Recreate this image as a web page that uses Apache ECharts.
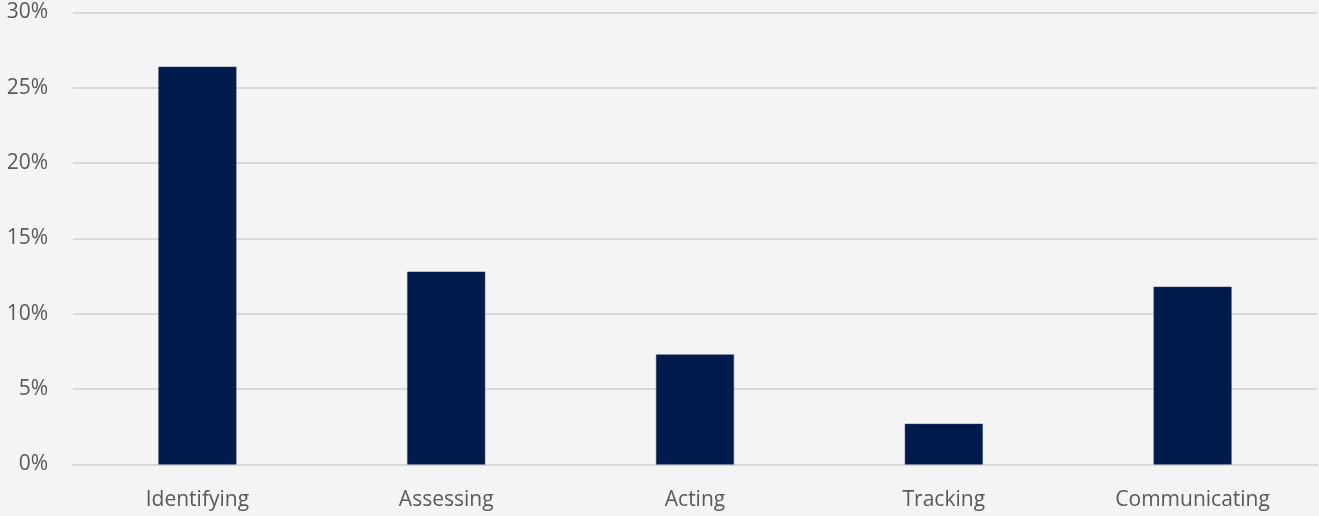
<!DOCTYPE html>
<html>
<head>
<meta charset="utf-8">
<script src="https://cdn.jsdelivr.net/npm/echarts@6/dist/echarts.min.js"></script>
<style>
  html, body { margin: 0; padding: 0; background: #f4f4f4; }
  #chart { width: 1319px; height: 516px; }
</style>
</head>
<body>
<div id="chart"></div>
<script>
// Share of responses by stage
const categories = ['Identifying', 'Assessing', 'Acting', 'Tracking', 'Communicating'];
const shares = [26.4, 12.8, 7.3, 2.7, 11.8];
const yTicks = { min: 0, max: 30, interval: 5 };

const chart = echarts.init(document.getElementById('chart'), null, { renderer: 'canvas' });
const font = '"Open Sans", "Noto Sans", sans-serif';

chart.setOption({
  backgroundColor: '#f4f4f4',
  animation: false,
  grid: { left: 73, right: 2, top: 12.5, bottom: 51.5, containLabel: false },
  xAxis: {
    type: 'category',
    data: categories,
    axisLine: { show: true, lineStyle: { color: '#d9d9d9', width: 2 } },
    axisTick: { show: false },
    axisLabel: { color: '#595959', fontSize: 21, fontFamily: font, margin: 25 }
  },
  yAxis: {
    type: 'value',
    min: yTicks.min,
    max: yTicks.max,
    interval: yTicks.interval,
    axisLine: { show: false },
    axisTick: { show: false },
    splitLine: { lineStyle: { color: '#d9d9d9', width: 2 } },
    axisLabel: { color: '#595959', fontSize: 21, fontFamily: font, margin: 25, formatter: '{value}%' }
  },
  series: [{
    type: 'bar',
    data: shares,
    barWidth: 78,
    itemStyle: { color: '#001a4b', borderColor: '#2a3f66', borderWidth: 0.5 }
  }]
});
</script>
</body>
</html>
